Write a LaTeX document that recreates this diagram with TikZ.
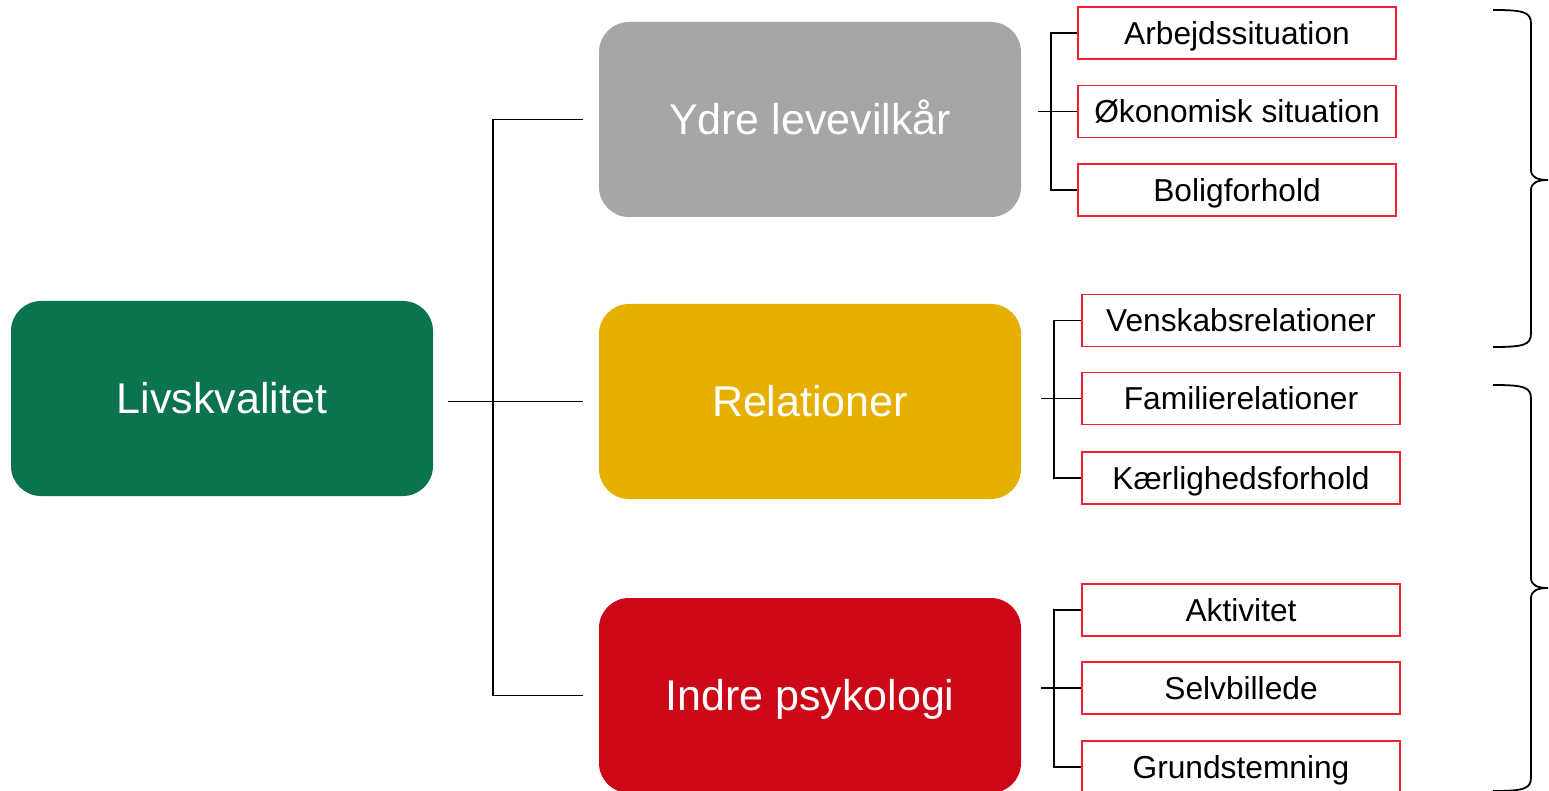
\documentclass[tikz,border=0pt]{standalone}
\usepackage{fontspec}
\setmainfont{Liberation Sans}
\definecolor{cgreen}{RGB}{11,115,78}
\definecolor{cgray}{RGB}{166,166,166}
\definecolor{cyellow}{RGB}{230,176,0}
\definecolor{cred}{RGB}{204,8,24}
\definecolor{cborder}{RGB}{240,32,52}
\tikzset{
  bigbox/.style={rounded corners=30pt, minimum width=422pt, minimum height=195pt, inner sep=0pt, text=white, font=\fontsize{43}{47}\selectfont, text height=30.8pt, text depth=0pt},
  smallbox/.style={draw=cborder, line width=1.5pt, fill=white, minimum width=318pt, minimum height=52pt, inner sep=0pt, text=black, font=\fontsize{31.7}{35}\selectfont, text height=22.7pt, text depth=0pt},
  conn/.style={line width=1.8pt, black},
  bracepath/.style={line width=1.8pt, black}
}
\begin{document}
\begin{tikzpicture}[x=1pt,y=-1pt]
\useasboundingbox (0,0) rectangle (1549,791);
% main boxes
\node[bigbox, fill=cgreen] (L) at (222,398.5) {Livskvalitet};
\node[bigbox, fill=cgray] (Y) at (810,119.5) {Ydre levevilkår};
\node[bigbox, fill=cyellow] (R) at (810,401.5) {Relationer};
\node[bigbox, fill=cred] (I) at (810,695.5) {Indre psykologi};
% small boxes
\node[smallbox] (a1) at (1237,33) {Arbejdssituation};
\node[smallbox] (a2) at (1237,111.5) {Økonomisk situation};
\node[smallbox] (a3) at (1237,190) {Boligforhold};
\node[smallbox] (b1) at (1241,320.5) {Venskabsrelationer};
\node[smallbox] (b2) at (1241,398.5) {Familierelationer};
\node[smallbox] (b3) at (1241,478) {Kærlighedsforhold};
\node[smallbox] (c1) at (1241,610) {Aktivitet};
\node[smallbox] (c2) at (1241,688) {Selvbillede};
\node[smallbox] (c3) at (1241,767) {Grundstemning};
% helper coordinates
\coordinate (lout) at ([xshift=15pt]L.east);
\coordinate (yin) at ([xshift=-16pt]Y.west);
\coordinate (rin) at ([xshift=-16pt]R.west);
\coordinate (iin) at ([xshift=-16pt]I.west);
\coordinate (trunk) at ([xshift=-106pt]Y.west);
\coordinate (yout) at ([xshift=17pt]Y.east);
\coordinate (rout) at ([xshift=20pt]R.east);
\coordinate (iout) at ([xshift=20pt]I.east);
% left tree
\draw[conn] (lout |- rin) -- (rin);
\draw[conn] (yin |- Y.west) -- (trunk |- Y.west) -- (trunk |- iin) -- (iin);
% right trees
\draw[conn] (yout |- a2.west) -- (a2.west);
\draw[conn] (a1.west) -- ++(-26,0) |- (a3.west);
\draw[conn] (rout |- b2.west) -- (b2.west);
\draw[conn] (b1.west) -- ++(-27,0) |- (b3.west);
\draw[conn] (iout |- c2.west) -- (c2.west);
\draw[conn] (c1.west) -- ++(-27,0) |- (c3.west);
% braces
\coordinate (p1) at (1493,10);
\coordinate (q1) at (1548,180);
\coordinate (r1) at (1493,347);
\draw[bracepath] (p1) .. controls (1524,10) and (1531,12) .. (1531,24)
  -- (1531,170) .. controls (1531,177) and (1537,180) .. (q1)
  .. controls (1537,180) and (1531,183) .. (1531,190)
  -- (1531,333) .. controls (1531,345) and (1524,347) .. (r1);
\coordinate (p2) at (1493,385);
\coordinate (q2) at (1548,588);
\coordinate (r2) at (1493,791);
\draw[bracepath] (p2) .. controls (1524,385) and (1531,387) .. (1531,399)
  -- (1531,578) .. controls (1531,585) and (1537,588) .. (q2)
  .. controls (1537,588) and (1531,591) .. (1531,598)
  -- (1531,777) .. controls (1531,789) and (1524,791) .. (r2);
\end{tikzpicture}
\end{document}
